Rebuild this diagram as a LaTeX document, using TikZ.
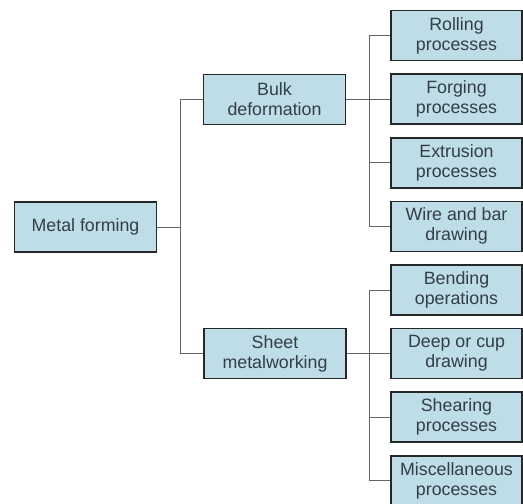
\documentclass[tikz,border=0pt]{standalone}
\usepackage{fontspec}
\setmainfont{Liberation Sans}
\definecolor{boxfill}{RGB}{191,221,230}
\definecolor{boxline}{RGB}{36,38,40}
\definecolor{boxtext}{RGB}{50,62,72}
\definecolor{conn}{RGB}{100,100,100}
\begin{document}
\begin{tikzpicture}[x=1pt,y=-1pt,
  box/.style={draw=boxline,line width=1.6pt,fill=boxfill,text=boxtext,
    align=center,inner sep=0pt,minimum height=50pt,
    font=\fontsize{17.8}{20}\selectfont},
  leftbox/.style={box,minimum width=142pt},
  rightbox/.style={box,minimum width=131pt},
  link/.style={draw=conn,line width=0.8pt}]
\useasboundingbox (0,0) rectangle (523,504);
\node[leftbox] (metal) at (85.5,227) {Metal forming};
\node[leftbox] (bulk) at (274.5,99.5) {Bulk\\deformation};
\node[leftbox] (sheet) at (275,353.5) {Sheet\\metalworking};
\node[rightbox] (roll) at (456.5,35.5) {Rolling\\processes};
\node[rightbox] (forg) at (456.5,99.1) {Forging\\processes};
\node[rightbox] (extr) at (456.5,162.7) {Extrusion\\processes};
\node[rightbox] (wire) at (456.5,226.3) {Wire and bar\\drawing};
\node[rightbox] (bend) at (456.5,289.9) {Bending\\operations};
\node[rightbox] (deep) at (456.5,353.5) {Deep or cup\\drawing};
\node[rightbox] (shear) at (456.5,417.1) {Shearing\\processes};
\node[rightbox] (misc) at (456.5,480.7) {Miscellaneous\\processes};
\coordinate (j0) at (180,227);
\coordinate (j1) at (369,99.5);
\coordinate (j2) at (369,353.5);
\path[link] (metal.east) -- (j0);
\path[link] (j0) |- (bulk.west);
\path[link] (j0) |- (sheet.west);
\path[link] (bulk.east) -- (j1);
\path[link] (j1) |- (roll.west);
\path[link] (j1) |- (forg.west);
\path[link] (j1) |- (extr.west);
\path[link] (j1) |- (wire.west);
\path[link] (sheet.east) -- (j2);
\path[link] (j2) |- (bend.west);
\path[link] (j2) |- (deep.west);
\path[link] (j2) |- (shear.west);
\path[link] (j2) |- (misc.west);
\end{tikzpicture}
\end{document}
